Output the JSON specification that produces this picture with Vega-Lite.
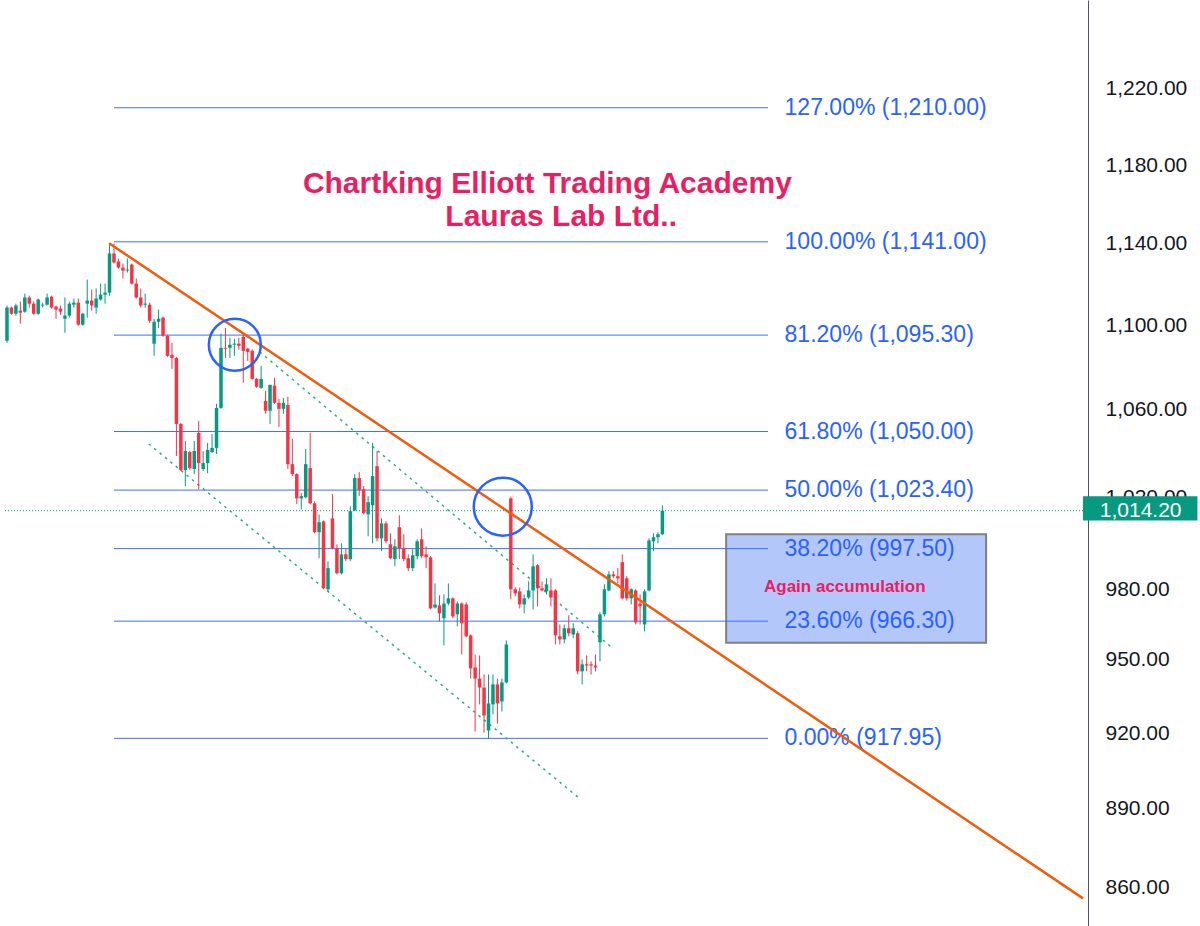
{
"$schema": "https://vega.github.io/schema/vega-lite/v6.json",
"width": 1088, "height": 926,
"autosize": "none",
"padding": {"left": 0, "top": 0, "right": 112, "bottom": 0},
"background": "white",
"config": {"view": {"stroke": null}, "font": "Liberation Sans",
 "axisY": {"orient":"right","title":null,"grid":false,"ticks":false,"tickSize":0,"labelPadding":17,"labelFontSize":21,"labelFont":"Liberation Sans","labelColor":"#131722","domainColor":"#50535e","domainWidth":1,"labelFlush":false,"labelOverlap":false,"labelBound":false}},
"datasets": {
"candles": [
{"i":0,"o":1092.6,"h":1109.6,"l":1091.6,"c":1108.6},
{"i":1,"o":1108.6,"h":1109.1,"l":1105.1,"c":1105.6},
{"i":2,"o":1105.6,"h":1110.5,"l":1104.6,"c":1109.6},
{"i":3,"o":1107.1,"h":1111.5,"l":1100.8,"c":1106.1},
{"i":4,"o":1106.6,"h":1115.4,"l":1106.1,"c":1113.5},
{"i":5,"o":1113.5,"h":1114.4,"l":1108.6,"c":1110.5},
{"i":6,"o":1110.5,"h":1111.5,"l":1105.1,"c":1105.6},
{"i":7,"o":1105.6,"h":1113.0,"l":1105.1,"c":1112.5},
{"i":8,"o":1109.6,"h":1111.0,"l":1108.6,"c":1110.0},
{"i":9,"o":1110.0,"h":1115.4,"l":1109.6,"c":1113.5},
{"i":10,"o":1113.9,"h":1114.4,"l":1108.1,"c":1108.6},
{"i":11,"o":1109.1,"h":1109.6,"l":1103.2,"c":1107.6},
{"i":12,"o":1108.1,"h":1109.6,"l":1105.1,"c":1106.6},
{"i":13,"o":1103.2,"h":1113.5,"l":1096.4,"c":1104.7},
{"i":14,"o":1104.7,"h":1111.5,"l":1103.7,"c":1110.5},
{"i":15,"o":1110.0,"h":1113.0,"l":1108.6,"c":1111.0},
{"i":16,"o":1111.0,"h":1113.0,"l":1099.8,"c":1100.3},
{"i":17,"o":1100.3,"h":1106.1,"l":1099.8,"c":1105.6},
{"i":18,"o":1110.5,"h":1122.3,"l":1103.7,"c":1112.0},
{"i":19,"o":1112.0,"h":1117.4,"l":1107.1,"c":1109.6},
{"i":20,"o":1108.6,"h":1117.9,"l":1105.6,"c":1113.0},
{"i":21,"o":1112.5,"h":1120.3,"l":1112.0,"c":1114.9},
{"i":22,"o":1114.9,"h":1120.3,"l":1110.5,"c":1115.9},
{"i":23,"o":1115.9,"h":1140.1,"l":1114.4,"c":1135.2},
{"i":24,"o":1135.2,"h":1140.1,"l":1130.2,"c":1130.7},
{"i":25,"o":1131.2,"h":1132.7,"l":1127.7,"c":1128.2},
{"i":26,"o":1128.2,"h":1130.2,"l":1122.8,"c":1126.7},
{"i":27,"o":1126.7,"h":1132.7,"l":1125.7,"c":1127.2},
{"i":28,"o":1129.7,"h":1130.2,"l":1119.8,"c":1120.3},
{"i":29,"o":1120.3,"h":1122.8,"l":1113.0,"c":1113.5},
{"i":30,"o":1113.5,"h":1117.9,"l":1108.6,"c":1109.6},
{"i":31,"o":1110.0,"h":1115.4,"l":1108.6,"c":1110.5},
{"i":32,"o":1110.0,"h":1111.0,"l":1101.2,"c":1102.2},
{"i":33,"o":1091.2,"h":1103.2,"l":1085.4,"c":1101.7},
{"i":34,"o":1101.7,"h":1107.6,"l":1098.8,"c":1103.2},
{"i":35,"o":1103.7,"h":1104.2,"l":1094.5,"c":1095.0},
{"i":36,"o":1095.0,"h":1095.5,"l":1084.9,"c":1085.4},
{"i":37,"o":1085.9,"h":1091.6,"l":1079.2,"c":1084.4},
{"i":38,"o":1084.4,"h":1084.9,"l":1038.8,"c":1053.5},
{"i":39,"o":1053.5,"h":1054.0,"l":1032.0,"c":1032.4},
{"i":40,"o":1032.4,"h":1045.7,"l":1025.2,"c":1041.1},
{"i":41,"o":1040.6,"h":1041.1,"l":1032.4,"c":1033.3},
{"i":42,"o":1032.9,"h":1045.7,"l":1030.6,"c":1041.1},
{"i":43,"o":1049.4,"h":1054.9,"l":1023.8,"c":1035.6},
{"i":44,"o":1032.9,"h":1041.1,"l":1032.0,"c":1035.6},
{"i":45,"o":1035.6,"h":1044.8,"l":1031.0,"c":1041.6},
{"i":46,"o":1040.6,"h":1048.9,"l":1040.2,"c":1042.5},
{"i":47,"o":1042.5,"h":1062.8,"l":1039.7,"c":1060.9},
{"i":48,"o":1060.9,"h":1096.0,"l":1060.5,"c":1089.2},
{"i":49,"o":1089.2,"h":1098.8,"l":1084.4,"c":1088.8},
{"i":50,"o":1089.2,"h":1094.0,"l":1084.4,"c":1090.7},
{"i":51,"o":1090.7,"h":1093.6,"l":1085.4,"c":1091.2},
{"i":52,"o":1091.2,"h":1094.0,"l":1088.3,"c":1090.2},
{"i":53,"o":1094.5,"h":1096.0,"l":1072.7,"c":1087.8},
{"i":54,"o":1088.8,"h":1089.2,"l":1083.0,"c":1087.3},
{"i":55,"o":1087.8,"h":1088.3,"l":1074.1,"c":1074.5},
{"i":56,"o":1074.5,"h":1075.0,"l":1070.3,"c":1070.8},
{"i":57,"o":1070.3,"h":1080.7,"l":1069.8,"c":1074.5},
{"i":58,"o":1064.2,"h":1068.9,"l":1058.2,"c":1059.6},
{"i":59,"o":1059.6,"h":1071.7,"l":1053.5,"c":1071.7},
{"i":60,"o":1071.3,"h":1075.0,"l":1062.8,"c":1063.3},
{"i":61,"o":1063.3,"h":1065.1,"l":1052.1,"c":1060.5},
{"i":62,"o":1060.5,"h":1065.6,"l":1058.2,"c":1063.3},
{"i":63,"o":1062.3,"h":1066.1,"l":1032.9,"c":1035.1},
{"i":64,"o":1035.1,"h":1046.6,"l":1029.7,"c":1030.6},
{"i":65,"o":1030.6,"h":1031.0,"l":1017.1,"c":1019.7},
{"i":66,"o":1019.7,"h":1022.0,"l":1014.8,"c":1020.7},
{"i":67,"o":1020.2,"h":1042.0,"l":1019.7,"c":1035.1},
{"i":68,"o":1033.3,"h":1049.4,"l":1017.1,"c":1017.5},
{"i":69,"o":1017.5,"h":1018.4,"l":1004.2,"c":1004.7},
{"i":70,"o":1004.7,"h":1012.5,"l":993.3,"c":1009.1},
{"i":71,"o":1009.5,"h":1009.9,"l":979.9,"c":980.3},
{"i":72,"o":979.9,"h":992.0,"l":979.0,"c":989.0},
{"i":73,"o":1010.8,"h":1021.6,"l":997.2,"c":997.7},
{"i":74,"o":997.7,"h":999.4,"l":986.3,"c":986.8},
{"i":75,"o":986.8,"h":999.8,"l":986.3,"c":995.0},
{"i":76,"o":995.0,"h":997.7,"l":992.0,"c":992.9},
{"i":77,"o":992.9,"h":1016.2,"l":992.0,"c":1014.0},
{"i":78,"o":1014.4,"h":1030.6,"l":1014.0,"c":1028.8},
{"i":79,"o":1028.8,"h":1031.5,"l":1020.7,"c":1023.4},
{"i":80,"o":1023.8,"h":1025.2,"l":1012.6,"c":1013.1},
{"i":81,"o":1012.6,"h":1020.7,"l":1002.9,"c":1018.0},
{"i":82,"o":1016.6,"h":1044.8,"l":999.8,"c":1029.7},
{"i":83,"o":1034.2,"h":1041.1,"l":1000.7,"c":1002.0},
{"i":84,"o":1002.0,"h":1010.8,"l":996.4,"c":1008.6},
{"i":85,"o":1008.6,"h":1009.5,"l":999.8,"c":1000.7},
{"i":86,"o":999.4,"h":1004.2,"l":992.9,"c":993.3},
{"i":87,"o":992.9,"h":1001.6,"l":989.8,"c":998.5},
{"i":88,"o":1006.9,"h":1012.2,"l":992.9,"c":997.7},
{"i":89,"o":997.7,"h":1003.8,"l":992.0,"c":992.9},
{"i":90,"o":993.3,"h":995.0,"l":987.7,"c":989.0},
{"i":91,"o":989.0,"h":997.2,"l":987.7,"c":994.6},
{"i":92,"o":994.2,"h":1001.6,"l":992.9,"c":1000.7},
{"i":93,"o":1001.6,"h":1006.4,"l":993.3,"c":994.2},
{"i":94,"o":995.0,"h":998.5,"l":989.0,"c":993.7},
{"i":95,"o":993.7,"h":994.2,"l":971.3,"c":971.7},
{"i":96,"o":972.1,"h":982.4,"l":971.7,"c":973.4},
{"i":97,"o":973.0,"h":977.3,"l":966.2,"c":969.6},
{"i":98,"o":967.5,"h":977.7,"l":956.1,"c":973.8},
{"i":99,"o":973.8,"h":982.4,"l":973.0,"c":976.0},
{"i":100,"o":976.0,"h":976.4,"l":967.5,"c":968.3},
{"i":101,"o":969.2,"h":974.7,"l":964.1,"c":973.8},
{"i":102,"o":973.8,"h":974.3,"l":952.3,"c":965.4},
{"i":103,"o":973.4,"h":974.3,"l":959.5,"c":959.9},
{"i":104,"o":960.3,"h":960.7,"l":942.3,"c":946.5},
{"i":105,"o":946.9,"h":952.3,"l":920.7,"c":942.3},
{"i":106,"o":942.3,"h":951.9,"l":931.7,"c":938.6},
{"i":107,"o":938.6,"h":944.0,"l":920.2,"c":927.2},
{"i":108,"o":921.1,"h":944.0,"l":917.8,"c":932.1},
{"i":109,"o":931.7,"h":944.0,"l":927.6,"c":939.9},
{"i":110,"o":939.9,"h":942.3,"l":923.9,"c":932.1},
{"i":111,"o":932.9,"h":942.3,"l":928.8,"c":940.7},
{"i":112,"o":940.7,"h":958.2,"l":940.3,"c":956.5},
{"i":113,"o":1019.7,"h":1020.5,"l":975.6,"c":979.9},
{"i":114,"o":979.9,"h":980.7,"l":976.9,"c":978.1},
{"i":115,"o":979.0,"h":980.7,"l":971.7,"c":973.4},
{"i":116,"o":973.4,"h":977.7,"l":969.6,"c":976.0},
{"i":117,"o":976.4,"h":983.3,"l":975.6,"c":979.4},
{"i":118,"o":979.4,"h":995.0,"l":971.3,"c":989.8},
{"i":119,"o":990.3,"h":990.7,"l":972.6,"c":980.3},
{"i":120,"o":980.3,"h":983.3,"l":979.0,"c":979.4},
{"i":121,"o":979.0,"h":984.6,"l":977.7,"c":982.0},
{"i":122,"o":979.4,"h":984.6,"l":972.6,"c":976.4},
{"i":123,"o":979.4,"h":979.9,"l":956.5,"c":960.3},
{"i":124,"o":959.9,"h":964.9,"l":956.5,"c":958.6},
{"i":125,"o":958.6,"h":964.9,"l":957.0,"c":963.3},
{"i":126,"o":963.3,"h":968.8,"l":959.9,"c":961.2},
{"i":127,"o":960.7,"h":965.4,"l":959.1,"c":963.3},
{"i":128,"o":961.2,"h":962.0,"l":944.0,"c":945.3},
{"i":129,"o":945.3,"h":950.2,"l":939.9,"c":948.2},
{"i":130,"o":948.2,"h":951.9,"l":945.3,"c":947.7},
{"i":131,"o":948.2,"h":949.4,"l":944.0,"c":947.7},
{"i":132,"o":947.7,"h":952.3,"l":945.3,"c":946.9},
{"i":133,"o":957.4,"h":970.1,"l":949.4,"c":969.2},
{"i":134,"o":969.2,"h":982.0,"l":968.3,"c":979.9},
{"i":135,"o":979.4,"h":987.7,"l":979.0,"c":986.3},
{"i":136,"o":986.3,"h":987.7,"l":984.6,"c":985.5},
{"i":137,"o":985.5,"h":989.0,"l":982.4,"c":984.6},
{"i":138,"o":991.6,"h":995.0,"l":975.6,"c":976.0},
{"i":139,"o":984.6,"h":985.5,"l":975.1,"c":976.0},
{"i":140,"o":976.0,"h":980.3,"l":973.4,"c":979.9},
{"i":141,"o":979.4,"h":979.9,"l":964.9,"c":965.8},
{"i":142,"o":973.8,"h":977.7,"l":964.9,"c":972.6},
{"i":143,"o":964.9,"h":979.9,"l":962.0,"c":979.0},
{"i":144,"o":979.4,"h":1002.0,"l":979.0,"c":1001.1},
{"i":145,"o":1000.7,"h":1004.2,"l":996.4,"c":1002.5},
{"i":146,"o":1002.5,"h":1004.7,"l":999.8,"c":1003.8},
{"i":147,"o":1003.8,"h":1016.6,"l":1003.4,"c":1014.2}
],
"fibs": [
{"v":1210,"label":"127.00% (1,210.00)"},
{"v":1141,"label":"100.00% (1,141.00)"},
{"v":1095.3,"label":"81.20% (1,095.30)"},
{"v":1050,"label":"61.80% (1,050.00)"},
{"v":1023.4,"label":"50.00% (1,023.40)"},
{"v":997.5,"label":"38.20% (997.50)"},
{"v":966.3,"label":"23.60% (966.30)"},
{"v":917.95,"label":"0.00% (917.95)"}
]
},
"layer": [
{"data":{"values":[{}]},
 "mark":{"type":"rect","fill":"#b4c7fa","stroke":"#7f7f7f","strokeWidth":2},
 "encoding":{
  "x":{"datum":161.3,"type":"quantitative","scale":{"domain":[-0.444,241.333],"nice":false,"zero":false},"axis":null},
  "x2":{"datum":219.6},
  "y":{"datum":1003.8,"type":"quantitative","scale":{"type":"log","domain":[845.5,1268.5],"nice":false},
   "axis":{"values":[860,890,920,950,980,1020,1060,1100,1140,1180,1220,1270],"format":",.2f","title":null,"orient":"right"}},
  "y2":{"datum":957.2}}},
{"data":{"name":"fibs"},
 "mark":{"type":"rule","color":"#3f71f5","strokeWidth":1},
 "encoding":{
  "x":{"datum":24,"type":"quantitative","scale":{"domain":[-0.444,241.333],"nice":false,"zero":false},"axis":null},
  "x2":{"datum":170.7},
  "y":{"field":"v","type":"quantitative","scale":{"type":"log","domain":[845.5,1268.5],"nice":false},
   "axis":{"values":[860,890,920,950,980,1020,1060,1100,1140,1180,1220,1270],"format":",.2f","title":null,"orient":"right"}}}},
{"data":{"name":"fibs"},
 "mark":{"type":"text","align":"left","baseline":"middle","fontSize":23,"font":"Liberation Sans","color":"#2962ff"},
 "encoding":{
  "x":{"datum":174.4,"type":"quantitative","scale":{"domain":[-0.444,241.333],"nice":false,"zero":false},"axis":null},
  "y":{"field":"v","type":"quantitative","scale":{"type":"log","domain":[845.5,1268.5],"nice":false},
   "axis":{"values":[860,890,920,950,980,1020,1060,1100,1140,1180,1220,1270],"format":",.2f","title":null,"orient":"right"}},
  "text":{"field":"label","type":"nominal"}}},
{"data":{"values":[{}]},
 "mark":{"type":"rule","color":"#089981","strokeWidth":1,"strokeDash":[1,2]},
 "encoding":{
  "x":{"datum":-0.444,"type":"quantitative","scale":{"domain":[-0.444,241.333],"nice":false,"zero":false},"axis":null},
  "x2":{"datum":241.333},
  "y":{"datum":1014.2,"type":"quantitative","scale":{"type":"log","domain":[845.5,1268.5],"nice":false},
   "axis":{"values":[860,890,920,950,980,1020,1060,1100,1140,1180,1220,1270],"format":",.2f","title":null,"orient":"right"}}}},
{"data":{"values":[{}]},
 "mark":{"type":"rule","color":"#22ab94","strokeWidth":1.5,"strokeDash":[2.5,4.5]},
 "encoding":{
  "x":{"datum":31.8,"type":"quantitative","scale":{"domain":[-0.444,241.333],"nice":false,"zero":false},"axis":null},
  "x2":{"datum":128.0},
  "y":{"datum":1044.3,"type":"quantitative","scale":{"type":"log","domain":[845.5,1268.5],"nice":false},
   "axis":{"values":[860,890,920,950,980,1020,1060,1100,1140,1180,1220,1270],"format":",.2f","title":null,"orient":"right"}},
  "y2":{"datum":894.7}}},
{"data":{"values":[{}]},
 "mark":{"type":"rule","color":"#22ab94","strokeWidth":1.5,"strokeDash":[2.5,4.5]},
 "encoding":{
  "x":{"datum":56.7,"type":"quantitative","scale":{"domain":[-0.444,241.333],"nice":false,"zero":false},"axis":null},
  "x2":{"datum":135.6},
  "y":{"datum":1087.3,"type":"quantitative","scale":{"type":"log","domain":[845.5,1268.5],"nice":false},
   "axis":{"values":[860,890,920,950,980,1020,1060,1100,1140,1180,1220,1270],"format":",.2f","title":null,"orient":"right"}},
  "y2":{"datum":955.3}}},
{"data":{"name":"candles"},
 "mark":{"type":"rule","strokeWidth":1},
 "encoding":{
  "x":{"field":"i","type":"quantitative","scale":{"domain":[-0.444,241.333],"nice":false,"zero":false},"axis":null},
  "y":{"field":"l","type":"quantitative","scale":{"type":"log","domain":[845.5,1268.5],"nice":false},
   "axis":{"values":[860,890,920,950,980,1020,1060,1100,1140,1180,1220,1270],"format":",.2f","title":null,"orient":"right"}},
  "y2":{"field":"h"},
  "color":{"condition":{"test":"datum.c >= datum.o","value":"#089981"},"value":"#f23645"}}},
{"data":{"name":"candles"},
 "mark":{"type":"bar","orient":"vertical","size":3.5},
 "encoding":{
  "x":{"field":"i","type":"quantitative","scale":{"domain":[-0.444,241.333],"nice":false,"zero":false},"axis":null},
  "y":{"field":"o","type":"quantitative","scale":{"type":"log","domain":[845.5,1268.5],"nice":false},
   "axis":{"values":[860,890,920,950,980,1020,1060,1100,1140,1180,1220,1270],"format":",.2f","title":null,"orient":"right"}},
  "y2":{"field":"c"},
  "color":{"condition":{"test":"datum.c >= datum.o","value":"#089981"},"value":"#f23645"}}},
{"data":{"values":[{}]},
 "mark":{"type":"rule","color":"#ef5c0c","strokeWidth":2.5},
 "encoding":{
  "x":{"datum":22.9,"type":"quantitative","scale":{"domain":[-0.444,241.333],"nice":false,"zero":false},"axis":null},
  "x2":{"datum":241.333},
  "y":{"datum":1140.3,"type":"quantitative","scale":{"type":"log","domain":[845.5,1268.5],"nice":false},
   "axis":{"values":[860,890,920,950,980,1020,1060,1100,1140,1180,1220,1270],"format":",.2f","title":null,"orient":"right"}},
  "y2":{"datum":855.8}}},
{"data":{"values":[{}]},
 "mark":{"type":"point","shape":"circle","filled":false,"stroke":"#2962ff","strokeWidth":2.5,"opacity":1,"size":2704},
 "encoding":{
  "x":{"datum":51.1,"type":"quantitative","scale":{"domain":[-0.444,241.333],"nice":false,"zero":false},"axis":null},
  "y":{"datum":1090.7,"type":"quantitative","scale":{"type":"log","domain":[845.5,1268.5],"nice":false},
   "axis":{"values":[860,890,920,950,980,1020,1060,1100,1140,1180,1220,1270],"format":",.2f","title":null,"orient":"right"}}}},
{"data":{"values":[{}]},
 "mark":{"type":"point","shape":"circle","filled":false,"stroke":"#2962ff","strokeWidth":2.5,"opacity":1,"size":3364},
 "encoding":{
  "x":{"datum":111.2,"type":"quantitative","scale":{"domain":[-0.444,241.333],"nice":false,"zero":false},"axis":null},
  "y":{"datum":1016.0,"type":"quantitative","scale":{"type":"log","domain":[845.5,1268.5],"nice":false},
   "axis":{"values":[860,890,920,950,980,1020,1060,1100,1140,1180,1220,1270],"format":",.2f","title":null,"orient":"right"}}}},
{"data":{"values":[{}]},
 "mark":{"type":"text","text":"Chartking Elliott Trading Academy","font":"Liberation Sans","fontWeight":"bold","fontSize":30,"color":"#e91e63","align":"center","baseline":"alphabetic"},
 "encoding":{
  "x":{"datum":121.2,"type":"quantitative","scale":{"domain":[-0.444,241.333],"nice":false,"zero":false},"axis":null},
  "y":{"datum":1165.9,"type":"quantitative","scale":{"type":"log","domain":[845.5,1268.5],"nice":false},
   "axis":{"values":[860,890,920,950,980,1020,1060,1100,1140,1180,1220,1270],"format":",.2f","title":null,"orient":"right"}}}},
{"data":{"values":[{}]},
 "mark":{"type":"text","text":"Lauras Lab Ltd..","font":"Liberation Sans","fontWeight":"bold","fontSize":30,"color":"#e91e63","align":"center","baseline":"alphabetic"},
 "encoding":{
  "x":{"datum":124.3,"type":"quantitative","scale":{"domain":[-0.444,241.333],"nice":false,"zero":false},"axis":null},
  "y":{"datum":1148.7,"type":"quantitative","scale":{"type":"log","domain":[845.5,1268.5],"nice":false},
   "axis":{"values":[860,890,920,950,980,1020,1060,1100,1140,1180,1220,1270],"format":",.2f","title":null,"orient":"right"}}}},
{"data":{"values":[{}]},
 "mark":{"type":"text","text":"Again accumulation","font":"Liberation Sans","fontWeight":"bold","fontSize":17,"color":"#e91e63","align":"center","baseline":"middle"},
 "encoding":{
  "x":{"datum":187.9,"type":"quantitative","scale":{"domain":[-0.444,241.333],"nice":false,"zero":false},"axis":null},
  "y":{"datum":980.7,"type":"quantitative","scale":{"type":"log","domain":[845.5,1268.5],"nice":false},
   "axis":{"values":[860,890,920,950,980,1020,1060,1100,1140,1180,1220,1270],"format":",.2f","title":null,"orient":"right"}}}},
{"data":{"values":[{}]},
 "mark":{"type":"rect","fill":"#089981"},
 "encoding":{
  "x":{"datum":241.333,"type":"quantitative","scale":{"domain":[-0.444,241.333],"nice":false,"zero":false},"axis":null},
  "x2":{"datum":267},
  "y":{"datum":1020.6,"type":"quantitative","scale":{"type":"log","domain":[845.5,1268.5],"nice":false},
   "axis":{"values":[860,890,920,950,980,1020,1060,1100,1140,1180,1220,1270],"format":",.2f","title":null,"orient":"right"}},
  "y2":{"datum":1009.9}}},
{"data":{"values":[{}]},
 "mark":{"type":"text","text":"1,014.20","font":"Liberation Sans","fontSize":21,"color":"white","align":"left","baseline":"middle"},
 "encoding":{
  "x":{"datum":245.1,"type":"quantitative","scale":{"domain":[-0.444,241.333],"nice":false,"zero":false},"axis":null},
  "y":{"datum":1014.2,"type":"quantitative","scale":{"type":"log","domain":[845.5,1268.5],"nice":false},
   "axis":{"values":[860,890,920,950,980,1020,1060,1100,1140,1180,1220,1270],"format":",.2f","title":null,"orient":"right"}}}}
]
}
